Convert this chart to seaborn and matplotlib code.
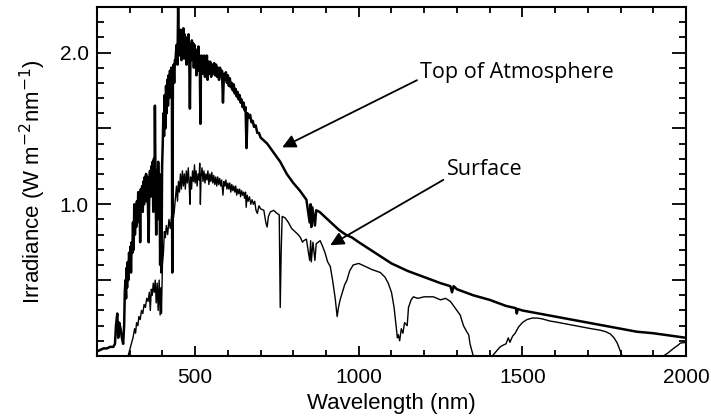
import numpy as np
import pandas as pd
import seaborn as sns
import matplotlib.pyplot as plt
from matplotlib.ticker import MultipleLocator, FuncFormatter

# solar irradiance (W m-2 nm-1)
toa_wavelength = [
    200, 210, 220, 230, 240, 250, 255, 258, 262, 265, 268, 272, 276, 280, 283, 285, 287, 289, 290,
    292, 294, 296, 298, 300, 302, 304, 306, 308, 310, 312, 314, 316, 318, 320, 322, 324, 326, 328,
    330, 332, 334, 336, 338, 340, 342, 344, 346, 348, 350, 352, 354, 356, 358, 360, 362, 364, 366,
    368, 370, 372, 374, 376, 377, 379, 381, 383, 385, 387, 389, 391, 393, 395, 397, 399, 401, 403,
    405, 407, 409, 411, 413, 415, 417, 419, 421, 423, 425, 427, 429, 430, 432, 434, 436, 438,
    440, 443, 446, 448, 450, 452, 454, 456, 458, 460, 462, 464, 466, 468, 470, 472, 474, 476, 478,
    480, 482, 484, 486, 488, 490, 492, 494, 496, 498, 500, 502, 504, 506, 508, 510, 512, 514, 516,
    518, 520, 522, 524, 526, 528, 530, 532, 534, 536, 538, 540, 543, 546, 549, 552, 555, 558, 561,
    564, 567, 570, 573, 576, 579, 582, 585, 588, 591, 594, 597, 600, 603, 606, 609, 612, 615, 618,
    621, 624, 627, 630, 633, 636, 639, 642, 645, 648, 651, 654, 657, 660, 664, 668, 672, 676, 680,
    685, 690, 695, 700, 720, 740, 760, 780, 800, 820, 840, 850, 853, 855, 858, 866, 870, 880, 900,
    920, 940, 960, 980, 1000, 1050, 1100, 1150, 1200, 1250, 1280, 1285, 1290, 1300, 1350, 1400,
    1450, 1480, 1483, 1486, 1500, 1550, 1600, 1650, 1700, 1750, 1800, 1850, 1900, 1950, 2000]
toa_irradiance = [
    0.03, 0.04, 0.05, 0.05, 0.06, 0.06, 0.08, 0.2, 0.28, 0.12, 0.22, 0.18, 0.12, 0.08, 0.2, 0.42,
    0.5, 0.38, 0.58, 0.45, 0.62, 0.5, 0.68, 0.6, 0.72, 0.55, 0.75, 0.68, 0.88, 0.7, 1.0, 0.8, 0.92,
    0.85, 1.02, 0.88, 1.08, 0.95, 1.05, 0.75, 1.1, 0.98, 1.12, 0.95, 1.15, 1.0, 1.18, 1.05, 1.2,
    1.02, 1.18, 0.95, 0.75, 1.15, 1.22, 1.05, 1.25, 1.1, 1.28, 0.95, 1.3, 1.15, 1.65, 1.1, 0.8,
    1.22, 0.9, 1.28, 1.05, 1.2, 0.6, 1.0, 0.55, 1.25, 1.4, 1.6, 1.45, 1.72, 1.5, 1.78, 1.6, 1.82,
    1.65, 1.85, 1.7, 1.88, 1.75, 1.9, 1.8, 0.55, 1.82, 1.92, 1.8, 1.95,
    1.95, 2.05, 1.92, 2.3, 2.0, 2.12, 1.98, 2.15, 1.95, 2.1, 2.02, 2.16, 1.96, 2.12, 2.0, 2.1,
    1.92, 2.08, 2.02, 2.12, 1.95, 1.63, 2.05, 1.95, 2.08, 1.98, 2.06, 1.9, 2.05, 1.92, 2.02, 1.85,
    2.0, 1.9, 2.04, 1.88, 1.98, 1.53, 1.92, 1.98, 1.86, 1.96, 1.88, 1.98, 1.84, 1.95, 1.9, 1.98,
    1.82, 1.94, 1.86, 1.94, 1.84, 1.92, 1.86, 1.93, 1.85, 1.92, 1.84, 1.9, 1.82, 1.9, 1.84, 1.88,
    1.67, 1.86, 1.82, 1.87, 1.8, 1.85, 1.78, 1.83, 1.77, 1.8, 1.75, 1.79, 1.73, 1.76, 1.71, 1.74,
    1.69, 1.72, 1.67, 1.69, 1.64, 1.67, 1.62, 1.64, 1.37, 1.6, 1.57, 1.59, 1.54, 1.55, 1.51, 1.52,
    1.47, 1.47, 1.44, 1.4, 1.34, 1.28, 1.2, 1.14, 1.09, 1.03, 0.88, 1.0, 0.85, 0.98, 0.86, 0.96,
    0.95, 0.91, 0.87, 0.83, 0.8, 0.78, 0.75, 0.68, 0.61, 0.56, 0.52, 0.48, 0.46, 0.42, 0.46, 0.44,
    0.4, 0.37, 0.33, 0.315, 0.28, 0.31, 0.3, 0.28, 0.26, 0.24, 0.22, 0.2, 0.18, 0.16, 0.15, 0.135,
    0.12]

sfc_wavelength = [
    295, 300, 305, 310, 315, 318, 321, 325, 328, 332, 336, 340, 344, 348, 352, 356, 360, 363, 366,
    369, 372, 375, 378, 381, 384, 387, 390, 393, 396, 397, 400, 403, 406, 409, 412, 416, 420, 424,
    428, 430, 433, 436, 440, 443, 446, 449, 452, 455, 458, 461, 464, 467, 470, 473, 476, 479, 482,
    484, 486, 489, 492, 495, 498, 500, 503, 506, 509, 512, 514, 516, 518, 521, 524, 527, 530, 533,
    536, 539, 542, 545, 548, 551, 554, 557, 560, 563, 566, 569, 572, 575, 578, 581, 585, 588, 591,
    594, 597, 600, 603, 606, 609, 612, 615, 618, 621, 624, 627, 630, 633, 636, 639, 642, 645, 648,
    651, 654, 656, 659, 662, 666, 670, 674, 678, 682, 686, 690, 695, 700, 710, 716, 720, 724, 730,
    740, 750, 757, 760, 763, 766, 775, 785, 795, 805, 815, 822, 828, 832, 840, 850, 853, 855, 860,
    866, 870, 882, 890, 897, 905, 913, 920, 928, 934, 938, 943, 950, 957, 964, 972, 983, 1000,
    1020, 1040, 1066, 1080, 1090, 1100, 1108, 1114, 1118, 1121, 1125, 1130, 1135, 1140, 1148,
    1152, 1160, 1167, 1180, 1200, 1228, 1250, 1265, 1280, 1290, 1300, 1310, 1320, 1330, 1336,
    1340, 1350, 1408, 1420, 1432, 1440, 1450, 1457, 1462, 1470, 1478, 1488, 1500, 1514, 1530,
    1545, 1560, 1585, 1600, 1637, 1660, 1686, 1710, 1738, 1755, 1769, 1780, 1790, 1798, 1805,
    1931, 1945, 1962, 1975, 1983, 2000]
sfc_irradiance = [
    0.0, 0.04, 0.08, 0.12, 0.18, 0.15, 0.22, 0.2, 0.26, 0.24, 0.3, 0.28, 0.34, 0.32, 0.38, 0.36,
    0.42, 0.3, 0.44, 0.4, 0.48, 0.42, 0.5, 0.35, 0.48, 0.3, 0.5, 0.27, 0.45, 0.28, 0.6, 0.68,
    0.82, 0.78, 0.86, 0.8, 0.9, 0.84, 0.92, 0.7, 0.9, 0.95, 1.05, 1.12, 1.02, 1.15, 1.08, 1.2,
    1.1, 1.22, 1.12, 1.2, 1.1, 1.22, 1.14, 1.24, 1.12, 1.0, 1.18, 1.1, 1.22, 1.15, 1.26, 1.14,
    1.22, 1.12, 1.2, 1.16, 1.27, 1.0, 1.18, 1.24, 1.15, 1.22, 1.14, 1.2, 1.16, 1.22, 1.13, 1.2,
    1.15, 1.21, 1.14, 1.19, 1.13, 1.18, 1.12, 1.18, 1.13, 1.17, 1.12, 1.16, 1.06, 1.15, 1.12,
    1.16, 1.1, 1.14, 1.1, 1.14, 1.08, 1.13, 1.09, 1.12, 1.08, 1.12, 1.06, 1.1, 1.07, 1.1, 1.05,
    1.09, 1.06, 1.08, 1.04, 1.08, 0.98, 1.06, 1.02, 1.05, 1.0, 1.03, 1.0, 1.02, 0.96, 0.94, 0.99,
    0.97, 0.96, 0.88, 0.85, 0.92, 0.95, 0.96, 0.94, 0.93, 0.32, 0.7, 0.92, 0.91, 0.88, 0.84,
    0.82, 0.8, 0.78, 0.75, 0.76, 0.77, 0.63, 0.76, 0.62, 0.75, 0.63, 0.74, 0.76, 0.72, 0.68,
    0.62, 0.59, 0.5, 0.38, 0.26, 0.32, 0.37, 0.42, 0.47, 0.5, 0.56, 0.6, 0.61, 0.59, 0.57, 0.55,
    0.52, 0.48, 0.42, 0.32, 0.2, 0.12, 0.14, 0.1, 0.18, 0.15, 0.22, 0.2, 0.32, 0.37, 0.39, 0.38,
    0.39, 0.39, 0.37, 0.38, 0.36, 0.33, 0.3, 0.27, 0.2, 0.16, 0.14, 0.08, 0.0, 0.0, 0.03, 0.06,
    0.07, 0.08, 0.12, 0.09, 0.13, 0.15, 0.19, 0.22, 0.24, 0.25, 0.25, 0.245, 0.23, 0.225, 0.21,
    0.2, 0.19, 0.18, 0.17, 0.16, 0.145, 0.12, 0.085, 0.04, 0.0, 0.0, 0.02, 0.05, 0.07, 0.085,
    0.09]

y_tick_labels = {1.0: '1.0', 2.0: '2.0'}


def main():
    sns.set_style('ticks')
    plt.rcParams['font.family'] = ['Liberation Sans', 'DejaVu Sans']
    for key in ['text.color', 'axes.labelcolor', 'xtick.color', 'ytick.color', 'axes.edgecolor']:
        plt.rcParams[key] = 'black'

    toa = pd.DataFrame({'wavelength': toa_wavelength, 'irradiance': toa_irradiance})
    sfc = pd.DataFrame({'wavelength': sfc_wavelength, 'irradiance': sfc_irradiance})

    fig = plt.figure(figsize=(7.11, 4.2), dpi=100)
    ax = fig.add_axes([0.1364, 0.1524, 0.8284, 0.8309])

    sns.lineplot(data=toa, x='wavelength', y='irradiance', color='black', linewidth=1.8,
                 estimator=None, sort=False, ax=ax)
    sns.lineplot(data=sfc, x='wavelength', y='irradiance', color='black', linewidth=1.0,
                 estimator=None, sort=False, ax=ax)

    ax.set_xlim(200, 2000)
    ax.set_ylim(0, 2.3)

    ax.xaxis.set_major_locator(MultipleLocator(500))
    ax.xaxis.set_minor_locator(MultipleLocator(100))
    ax.yaxis.set_major_locator(MultipleLocator(0.5))
    ax.yaxis.set_minor_locator(MultipleLocator(0.1))
    ax.yaxis.set_major_formatter(FuncFormatter(lambda v, p: y_tick_labels.get(round(v, 1), '')))

    ax.tick_params(which='both', direction='in', top=True, right=True, width=1.3, labelsize=15)
    ax.tick_params(axis='y', which='major', length=10, pad=6)
    ax.tick_params(axis='y', which='minor', length=5)
    ax.tick_params(axis='x', which='major', length=7, pad=9)
    ax.tick_params(axis='x', which='minor', length=4)
    for side in ax.spines.values():
        side.set_linewidth(1.5)

    ax.set_xlabel('Wavelength (nm)', fontsize=16, labelpad=4)
    ax.set_ylabel('Irradiance (W m$^{-2}$nm$^{-1}$)', fontsize=16, labelpad=8)

    arrow = dict(arrowstyle='-|>', color='black', lw=1.3, mutation_scale=20, shrinkA=0, shrinkB=0)
    ax.annotate('Top of Atmosphere', xy=(766, 1.375), xytext=(1188, 1.87),
                fontsize=15.5, family=['Open Sans', 'DejaVu Sans'], va='center', ha='left',
                arrowprops=dict(arrow, relpos=(0, 0.2)))
    ax.annotate('Surface', xy=(913, 0.73), xytext=(1270, 1.23),
                fontsize=15.5, family=['Open Sans', 'DejaVu Sans'], va='center', ha='left',
                arrowprops=dict(arrow, relpos=(-0.05, 0.0)))

    plt.savefig('out.png', dpi=100)
    plt.close()


if __name__ == "__main__":
    main()
